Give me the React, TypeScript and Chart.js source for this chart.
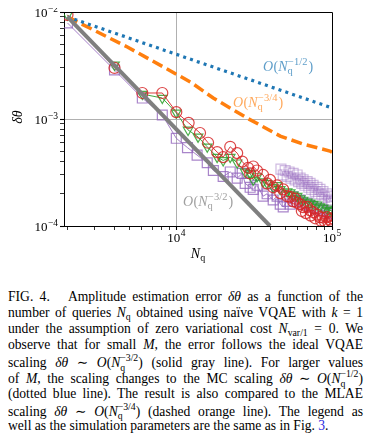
import React, { useEffect, useRef } from 'react';
import { Chart, registerables } from 'chart.js';
Chart.register(...registerables);

const SERIF = '"Liberation Serif", "DejaVu Serif", serif';

// axis ranges
const xMin = 1900;
const xMax = 100000;
const yMin = 1e-4;
const yMax = 1e-2;

// tick values
const xTickValues = [2000, 3000, 4000, 5000, 6000, 7000, 8000, 9000, 10000, 20000, 30000, 40000, 50000, 60000, 70000, 80000, 90000, 100000];
const yTickValues = [1e-4, 2e-4, 3e-4, 4e-4, 5e-4, 6e-4, 7e-4, 8e-4, 9e-4, 1e-3, 2e-3, 3e-3, 4e-3, 5e-3, 6e-3, 7e-3, 8e-3, 9e-3, 1e-2];
const xMajorTicks = [10000, 100000];
const xMajorExponents = ['4', '5'];
const yMajorTicks = [1e-4, 1e-3, 1e-2];
const yMajorExponents = ['\u22124', '\u22123', '\u22122'];

// guide lines
const mcN = [2000, 100000];
const mcErr = [0.0090, 0.00127];
const mlaeN = [2000, 4850, 12300, 17270, 28500, 46500, 65200, 97000, 100000];
const mlaeErr = [0.0090, 0.00471, 0.00222, 0.00157, 0.00102, 0.000693, 0.000583, 0.000502, 0.00049];
const vqaeN = [2000, 40000];
const vqaeErr = [0.0090, 0.0001];

// simulation series
const redN = [2000, 4010, 6050, 8130, 10000, 12000, 14200, 16000, 18300, 20000, 22200, 24600, 26500, 28900, 29800, 31200, 33000, 36100, 38300, 40000, 41900, 44400, 46500, 48600, 51500, 53900, 56300, 58000, 59700, 62400, 64000, 65200, 68000, 69200, 72300, 73000, 75600, 78000, 80100, 83700, 85000, 87500, 90000, 92800, 95000, 97000, 99000, 100000];
const redErr = [0.0094, 0.0030, 0.00175, 0.00175, 0.00116, 0.00092, 0.00074, 0.00060, 0.00049, 0.00044, 0.00055, 0.00048, 0.00040, 0.00035, 0.00031, 0.00036, 0.00033, 0.00030, 0.00025, 0.00027, 0.00023, 0.00024, 0.000203, 0.00022, 0.00019, 0.000187, 0.00017, 0.00018, 0.000165, 0.00016, 0.000138, 0.00015, 0.000132, 0.000151, 0.00014, 0.000125, 0.000135, 0.000118, 0.000128, 0.000121, 0.000112, 0.00012, 0.00011, 0.000121, 0.000108, 0.000115, 0.00011, 0.000118];

const greenN = [2000, 4010, 6050, 8130, 10000, 11900, 13800, 15800, 18300, 20000, 22200, 24600, 27700, 29800, 31200, 33000, 36100, 38300, 41900, 44400, 46500, 51500, 53900, 56300, 59700, 62400, 65200, 69200, 72300, 75600, 80100, 83700, 87500, 92800, 97000, 100000];
const greenErr = [0.0094, 0.0032, 0.00171, 0.00157, 0.00114, 0.00079, 0.00068, 0.00055, 0.00044, 0.00041, 0.00044, 0.00039, 0.00032, 0.00031, 0.00027, 0.00029, 0.00026, 0.00025, 0.00023, 0.00024, 0.00022, 0.00021, 0.000205, 0.000195, 0.00019, 0.00018, 0.000175, 0.000168, 0.000165, 0.00016, 0.000158, 0.000152, 0.000148, 0.000145, 0.00014, 0.000138];

const purpleN = [2000, 4010, 6050, 8130, 10000, 11800, 13600, 15800, 17300, 20000, 22200, 24600, 26500, 27700, 29800, 31200, 33000, 36100, 38300, 41900, 44400, 46500, 48600, 51500, 53900, 56300, 59700, 62400, 65200, 69200, 72300, 75600, 80100, 83700, 87500, 92800, 97000, 100000];
const purpleErr = [0.0079, 0.00287, 0.00157, 0.00109, 0.00066, 0.00054, 0.00046, 0.00039, 0.00033, 0.00029, 0.00032, 0.00028, 0.00031, 0.00025, 0.00023, 0.00022, 0.00024, 0.00019, 0.00020, 0.000175, 0.00019, 0.00016, 0.000151, 0.00017, 0.00016, 0.000187, 0.00017, 0.000175, 0.00016, 0.000164, 0.000155, 0.00015, 0.000145, 0.000141, 0.00014, 0.000135, 0.000132, 0.00013];

const lightN = [47000, 48600, 50000, 51500, 53000, 54500, 56300, 58000, 59700, 61000, 62400, 64000, 65200, 67000, 69200, 71000, 72300, 74000, 75600, 78000, 80100, 82000, 83700, 86000, 87500, 90000, 92800, 95000, 97000, 99000, 100000];
const lightErr = [0.00034, 0.00030, 0.00033, 0.00029, 0.00032, 0.00028, 0.00031, 0.00027, 0.00030, 0.00026, 0.00028, 0.00025, 0.00027, 0.00024, 0.00026, 0.00023, 0.00025, 0.00022, 0.00024, 0.00021, 0.00023, 0.00020, 0.00022, 0.000195, 0.00021, 0.000185, 0.0002, 0.000175, 0.00019, 0.00017, 0.000165];

const pts = (xs: number[], ys: number[]) => xs.map((x, i) => ({ x, y: ys[i] }));
const near = (a: number, b: number) => Math.abs(Math.log10(a) - Math.log10(b)) < 1e-6;
const isPow10 = (v: number) => Math.abs(Math.log10(v) - Math.round(Math.log10(v))) < 1e-6;

function drawOrder(ctx: CanvasRenderingContext2D, x: number, y: number, exp: string, color: string) {
  const S = 14;
  const s = 10.5;
  ctx.save();
  ctx.fillStyle = color;
  ctx.textAlign = 'left';
  ctx.textBaseline = 'alphabetic';
  let cx = x;
  ctx.font = `italic ${S}px ${SERIF}`;
  ctx.fillText('O', cx, y);
  cx += ctx.measureText('O').width + 0.5;
  ctx.font = `${S}px ${SERIF}`;
  ctx.fillText('(', cx, y);
  cx += ctx.measureText('(').width;
  ctx.font = `italic ${S}px ${SERIF}`;
  ctx.fillText('N', cx, y);
  cx += ctx.measureText('N').width;
  ctx.font = `${s}px ${SERIF}`;
  ctx.fillText('q', cx, y + 3);
  const wq = ctx.measureText('q').width;
  ctx.fillText(exp, cx + 0.5, y - 6);
  const we = ctx.measureText(exp).width + 0.5;
  cx += Math.max(wq, we) + 1;
  ctx.font = `${S}px ${SERIF}`;
  ctx.fillText(')', cx, y);
  ctx.restore();
}

const decorPlugin = {
  id: 'decor',
  afterDraw(chart: any) {
    const ctx: CanvasRenderingContext2D = chart.ctx;
    const { left, right, top, bottom } = chart.chartArea;
    const xs = chart.scales.x;
    const ys = chart.scales.y;
    ctx.save();
    // top and right spines
    ctx.strokeStyle = '#000';
    ctx.lineWidth = 1;
    ctx.beginPath();
    ctx.moveTo(left, top + 0.5);
    ctx.lineTo(right + 0.5, top + 0.5);
    ctx.lineTo(right + 0.5, bottom);
    ctx.stroke();

    ctx.fillStyle = '#000';
    ctx.textBaseline = 'alphabetic';
    // y tick labels
    yMajorTicks.forEach((v, i) => {
      const py = ys.getPixelForValue(v);
      ctx.font = `9.5px ${SERIF}`;
      const we = ctx.measureText(yMajorExponents[i]).width;
      ctx.font = `13px ${SERIF}`;
      const wb = ctx.measureText('10').width;
      const xr = 58;
      ctx.textAlign = 'left';
      ctx.fillText('10', xr - we - wb - 0.5, py + 5);
      ctx.font = `9.5px ${SERIF}`;
      ctx.fillText(yMajorExponents[i], xr - we, py - 0.5);
    });
    // x tick labels
    xMajorTicks.forEach((v, i) => {
      const px = xs.getPixelForValue(v);
      ctx.font = `9.5px ${SERIF}`;
      const we = ctx.measureText(xMajorExponents[i]).width;
      ctx.font = `13px ${SERIF}`;
      const wb = ctx.measureText('10').width;
      const x0 = px - (wb + we + 0.5) / 2;
      ctx.textAlign = 'left';
      ctx.fillText('10', x0, 242);
      ctx.font = `9.5px ${SERIF}`;
      ctx.fillText(xMajorExponents[i], x0 + wb + 0.5, 236);
    });
    // x axis title
    ctx.font = `italic 14px ${SERIF}`;
    const wN = ctx.measureText('N').width;
    ctx.font = `10px ${SERIF}`;
    const wq = ctx.measureText('q').width;
    const cxT = (left + right) / 2 - (wN + wq) / 2;
    ctx.font = `italic 14px ${SERIF}`;
    ctx.fillText('N', cxT, 258);
    ctx.font = `10px ${SERIF}`;
    ctx.fillText('q', cxT + wN, 261);
    // y axis title
    ctx.save();
    ctx.translate(22, 117);
    ctx.rotate(-Math.PI / 2);
    ctx.font = `italic 14px ${SERIF}`;
    ctx.textAlign = 'center';
    ctx.fillText('\u03b4\u03b8', 0, 0);
    ctx.restore();

    // annotations
    drawOrder(ctx, 263, 71, '\u22121/2', 'rgba(31,119,180,0.72)');
    drawOrder(ctx, 233, 107, '\u22123/4', 'rgba(255,127,14,0.68)');
    drawOrder(ctx, 183, 206, '\u22123/2', 'rgba(127,127,127,0.75)');
    ctx.restore();
  },
};

function ChartView() {
  const ref = useRef<HTMLCanvasElement | null>(null);
  useEffect(() => {
    if (!ref.current) return;
    const gridColor = (major: number) => (c: any) =>
      c.tick && near(c.tick.value, major) ? '#b0b0b0' : 'rgba(0,0,0,0)';
    const chart = new Chart(ref.current, {
      type: 'scatter',
      data: {
        datasets: [
          {
            label: 'light',
            data: pts(lightN, lightErr),
            showLine: true,
            borderColor: 'rgba(148,103,189,0.4)',
            borderWidth: 1,
            pointStyle: 'rect',
            pointRadius: 7,
            pointBorderWidth: 1.2,
            pointBorderColor: 'rgba(148,103,189,0.45)',
            pointBackgroundColor: 'rgba(0,0,0,0)',
            order: 6,
          },
          {
            label: 'purple',
            data: pts(purpleN, purpleErr),
            showLine: true,
            borderColor: 'rgba(148,103,189,0.85)',
            borderWidth: 1,
            pointStyle: 'rect',
            pointRadius: 7,
            pointBorderWidth: 1.2,
            pointBorderColor: 'rgba(148,103,189,0.8)',
            pointBackgroundColor: 'rgba(0,0,0,0)',
            order: 5,
          },
          {
            label: 'green',
            data: pts(greenN, greenErr),
            showLine: true,
            borderColor: 'rgba(44,160,44,0.9)',
            borderWidth: 1,
            pointStyle: 'triangle',
            pointRotation: 180,
            pointRadius: 5.5,
            pointBorderWidth: 1.2,
            pointBorderColor: 'rgba(44,160,44,0.85)',
            pointBackgroundColor: 'rgba(0,0,0,0)',
            order: 4,
          },
          {
            label: 'red',
            data: pts(redN, redErr),
            showLine: true,
            borderColor: 'rgba(214,39,40,0.9)',
            borderWidth: 1,
            pointStyle: 'circle',
            pointRadius: 5.5,
            pointBorderWidth: 1.2,
            pointBorderColor: 'rgba(214,39,40,0.85)',
            pointBackgroundColor: 'rgba(0,0,0,0)',
            order: 3,
          },
          {
            label: 'MLAE',
            data: pts(mlaeN, mlaeErr),
            showLine: true,
            borderColor: '#ff7f0e',
            borderWidth: 3.5,
            borderDash: [11, 5],
            pointRadius: 0,
            order: 2,
          },
          {
            label: 'MC',
            data: pts(mcN, mcErr),
            showLine: true,
            borderColor: '#1f77b4',
            borderWidth: 3.2,
            borderDash: [3, 4.2],
            pointRadius: 0,
            order: 1,
          },
          {
            label: 'VQAE',
            data: pts(vqaeN, vqaeErr),
            showLine: true,
            borderColor: '#7f7f7f',
            borderWidth: 4,
            pointRadius: 0,
            order: 0,
          },
        ],
      } as any,
      options: {
        animation: false,
        responsive: false,
        events: [],
        layout: { padding: { left: 0, top: 12, right: 41, bottom: 0 } },
        plugins: { legend: { display: false }, tooltip: { enabled: false } },
        scales: {
          x: {
            type: 'logarithmic',
            min: xMin,
            max: xMax,
            afterBuildTicks: (s: any) => {
              s.ticks = xTickValues.map((v) => ({ value: v, major: isPow10(v) }));
            },
            afterFit: (s: any) => {
              s.height = 49;
            },
            ticks: { display: false, autoSkip: false },
            grid: {
              drawOnChartArea: true,
              drawTicks: true,
              tickLength: 4,
              color: gridColor(10000),
              tickColor: '#000',
              tickWidth: (c: any) => (c.tick && isPow10(c.tick.value) ? 1.1 : 0.8),
              lineWidth: 1,
            },
            border: { display: true, color: '#000', width: 1 },
          },
          y: {
            type: 'logarithmic',
            min: yMin,
            max: yMax,
            afterBuildTicks: (s: any) => {
              s.ticks = yTickValues.map((v) => ({ value: v, major: isPow10(v) }));
            },
            afterFit: (s: any) => {
              s.width = 64;
            },
            ticks: { display: false, autoSkip: false },
            grid: {
              drawOnChartArea: true,
              drawTicks: true,
              tickLength: 4,
              color: gridColor(0.001),
              tickColor: '#000',
              tickWidth: (c: any) => (c.tick && isPow10(c.tick.value) ? 1.1 : 0.8),
              lineWidth: 1,
            },
            border: { display: true, color: '#000', width: 1 },
          },
        },
      } as any,
      plugins: [decorPlugin],
    });
    return () => chart.destroy();
  }, []);
  return <canvas ref={ref} width={373} height={275} style={{ display: 'block' }} />;
}

const Sub = ({ children }: { children: React.ReactNode }) => (
  <span style={{ fontSize: '0.72em', position: 'relative', top: '0.3em' }}>{children}</span>
);

const SubSup = ({ sub, sup }: { sub: string; sup: string }) => (
  <span style={{ display: 'inline-flex', flexDirection: 'column', verticalAlign: '0.42em', lineHeight: '0.7em' }}>
    <span style={{ fontSize: '0.72em' }}>{sup}</span>
    <span style={{ fontSize: '0.72em' }}>{sub}</span>
  </span>
);

const lineStyle: React.CSSProperties = {
  height: '16.1px',
  lineHeight: '16.1px',
  textAlign: 'justify',
  textAlignLast: 'justify' as any,
};

function Caption() {
  return (
    <div
      style={{
        position: 'absolute',
        left: 8,
        top: 289,
        width: 355,
        fontFamily: SERIF,
        fontSize: '13.6px',
        color: '#000',
      }}
    >
      <div style={lineStyle}>
        FIG. 4.&nbsp;&nbsp; Amplitude estimation error <i>δθ</i> as a function of the
      </div>
      <div style={lineStyle}>
        number of queries <i>N</i><Sub>q</Sub> obtained using naïve VQAE with <i>k</i> = 1
      </div>
      <div style={lineStyle}>
        under the assumption of zero variational cost <i>N</i><Sub>var/1</Sub> = 0. We
      </div>
      <div style={lineStyle}>observe that for small <i>M</i>, the error follows the ideal VQAE</div>
      <div style={lineStyle}>
        scaling <i>δθ</i> ∼ <i>O</i>(<i>N</i><SubSup sub="q" sup="−3/2" />) (solid gray line). For larger values
      </div>
      <div style={lineStyle}>
        of <i>M</i>, the scaling changes to the MC scaling <i>δθ</i> ∼ <i>O</i>(<i>N</i><SubSup sub="q" sup="−1/2" />)
      </div>
      <div style={lineStyle}>(dotted blue line). The result is also compared to the MLAE</div>
      <div style={lineStyle}>
        scaling <i>δθ</i> ∼ <i>O</i>(<i>N</i><SubSup sub="q" sup="−3/4" />) (dashed orange line). The legend as
      </div>
      <div style={{ ...lineStyle, textAlignLast: 'left' as any }}>
        well as the simulation parameters are the same as in Fig. <span style={{ color: '#2a2ae0' }}>3</span>.
      </div>
    </div>
  );
}

export default function App() {
  return (
    <div style={{ position: 'relative', width: 373, height: 440 }}>
      <div style={{ position: 'absolute', left: -8, top: -8 }}>
        <ChartView />
      </div>
      <div style={{ position: 'absolute', left: -8, top: -8 }}>
        <Caption />
      </div>
    </div>
  );
}
